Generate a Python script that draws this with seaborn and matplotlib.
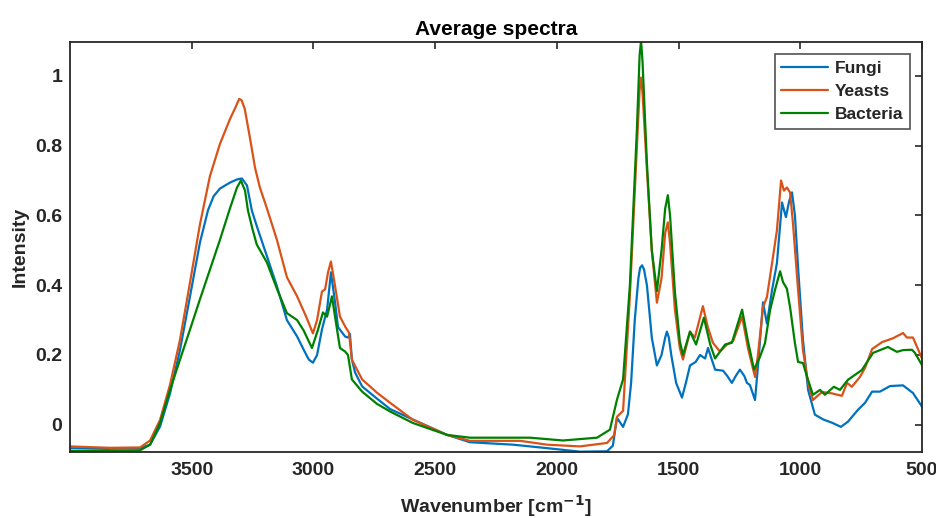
import matplotlib
matplotlib.use("Agg")
import matplotlib.pyplot as plt
import seaborn as sns
import pandas as pd

# ---------------- data ----------------
fungi_wn = [4000, 3850, 3712, 3671, 3630, 3589, 3548, 3507, 3466, 3433, 3410, 3384, 3343, 3314,
            3294, 3273, 3261, 3253, 3233, 3191, 3150, 3109, 3067, 3040, 3019, 3002, 2985, 2965,
            2944, 2928, 2911, 2899, 2870, 2858, 2850, 2842, 2829, 2800, 2739, 2685, 2591, 2451,
            2357, 2180, 2040, 1905, 1794, 1770, 1753, 1728, 1708, 1695, 1680, 1665, 1658, 1650,
            1642, 1630, 1610, 1589, 1570, 1555, 1548, 1540, 1530, 1510, 1486, 1470, 1453, 1430,
            1412, 1391, 1379, 1365, 1350, 1317, 1300, 1281, 1265, 1248, 1230, 1219, 1207, 1186,
            1174, 1153, 1137, 1116, 1096, 1075, 1059, 1046, 1034, 1022, 1009, 989, 968, 940, 905,
            870, 833, 804, 763, 734, 705, 673, 631, 578, 537, 500]
fungi_int = [-0.067, -0.069, -0.067, -0.057, -0.005, 0.09, 0.215, 0.368, 0.523, 0.615, 0.655, 0.677, 0.694, 0.703,
             0.706, 0.686, 0.643, 0.614, 0.57, 0.483, 0.397, 0.30, 0.253, 0.215, 0.187, 0.178, 0.20, 0.273,
             0.33, 0.437, 0.35, 0.28, 0.253, 0.25, 0.26, 0.187, 0.15, 0.11, 0.075, 0.045, 0.015, -0.029,
             -0.05, -0.057, -0.067, -0.077, -0.076, -0.06, 0.02, -0.006, 0.03, 0.12, 0.30, 0.42, 0.45, 0.457,
             0.445, 0.40, 0.25, 0.17, 0.20, 0.25, 0.267, 0.25, 0.20, 0.12, 0.078, 0.12, 0.17, 0.18,
             0.20, 0.19, 0.22, 0.19, 0.158, 0.155, 0.14, 0.12, 0.14, 0.158, 0.14, 0.12, 0.114, 0.071,
             0.166, 0.351, 0.29, 0.386, 0.463, 0.637, 0.595, 0.64, 0.666, 0.60, 0.45, 0.243, 0.10, 0.029, 0.015,
             0.006, -0.006, 0.009, 0.043, 0.063, 0.095, 0.095, 0.111, 0.113, 0.091, 0.052]

yeasts_wn = [4000, 3836, 3712, 3671, 3630, 3589, 3548, 3507, 3466, 3425, 3384, 3343, 3320, 3305,
             3295, 3282, 3261, 3240, 3220, 3191, 3150, 3109, 3067, 3030, 3002, 2985, 2965, 2952,
             2940, 2928, 2911, 2891, 2870, 2854, 2842, 2821, 2800, 2739, 2685, 2591, 2451, 2357,
             2151, 2040, 1905, 1794, 1765, 1753, 1728, 1700, 1671, 1660, 1654, 1648, 1630, 1610,
             1589, 1570, 1555, 1544, 1535, 1515, 1495, 1482, 1453, 1433, 1400, 1380, 1359, 1330,
             1301, 1276, 1239, 1215, 1186, 1174, 1153, 1137, 1116, 1096, 1079, 1067, 1055, 1042,
             1030, 1009, 989, 968, 948, 911, 870, 829, 808, 788, 755, 734, 705, 664, 619, 578,
             562, 537, 500]
yeasts_int = [-0.062, -0.066, -0.065, -0.045, 0.014, 0.115, 0.244, 0.408, 0.575, 0.713, 0.805, 0.876, 0.91, 0.934,
              0.93, 0.905, 0.823, 0.737, 0.68, 0.62, 0.53, 0.423, 0.368, 0.31, 0.262, 0.30, 0.382, 0.388,
              0.437, 0.468, 0.397, 0.31, 0.282, 0.264, 0.187, 0.158, 0.13, 0.092, 0.063, 0.014, -0.029, -0.046,
              -0.046, -0.057, -0.062, -0.052, -0.03, 0.023, 0.04, 0.37, 0.80, 0.96, 0.995, 0.95, 0.73, 0.50,
              0.35, 0.42, 0.55, 0.58, 0.52, 0.33, 0.22, 0.187, 0.267, 0.25, 0.34, 0.28, 0.235, 0.21,
              0.23, 0.24, 0.31, 0.22, 0.137, 0.20, 0.337, 0.366, 0.463, 0.557, 0.70, 0.671, 0.68, 0.666,
              0.577, 0.386, 0.214, 0.12, 0.071, 0.094, 0.09, 0.083, 0.12, 0.109, 0.137, 0.163, 0.217, 0.237, 0.248, 0.263,
              0.25, 0.25, 0.19]

bacteria_wn = [4000, 3836, 3712, 3671, 3630, 3589, 3548, 3507, 3466, 3425, 3384, 3343, 3314, 3298,
               3281, 3269, 3250, 3233, 3191, 3150, 3109, 3067, 3040, 3006, 2981, 2961, 2944, 2924,
               2903, 2891, 2870, 2858, 2842, 2800, 2739, 2685, 2591, 2451, 2357, 2110, 1975, 1835,
               1782, 1753, 1728, 1700, 1671, 1660, 1654, 1648, 1630, 1610, 1589, 1570, 1555, 1544,
               1535, 1515, 1495, 1482, 1453, 1428, 1396, 1370, 1350, 1309, 1281, 1239, 1215, 1190,
               1166, 1145, 1124, 1104, 1083, 1071, 1055, 1042, 1022, 1009, 989, 972, 948, 919, 899,
               862, 837, 804, 747, 701, 640, 603, 578, 541, 529, 500]
bacteria_int = [-0.075, -0.075, -0.073, -0.057, 0.005, 0.10, 0.187, 0.273, 0.36, 0.445, 0.53, 0.62, 0.68, 0.70,
                0.671, 0.614, 0.56, 0.517, 0.465, 0.39, 0.32, 0.30, 0.27, 0.22, 0.273, 0.322, 0.31, 0.368,
                0.273, 0.22, 0.21, 0.20, 0.13, 0.095, 0.06, 0.038, 0.005, -0.029, -0.037, -0.037, -0.045, -0.037,
                -0.014, 0.072, 0.13, 0.40, 0.85, 1.06, 1.10, 1.04, 0.75, 0.50, 0.383, 0.50, 0.62, 0.658,
                0.60, 0.38, 0.24, 0.20, 0.267, 0.23, 0.307, 0.23, 0.19, 0.23, 0.235, 0.33, 0.24, 0.158,
                0.194, 0.234, 0.329, 0.386, 0.44, 0.409, 0.39, 0.337, 0.234, 0.18, 0.177, 0.137, 0.086, 0.10, 0.086,
                0.109, 0.10, 0.129, 0.157, 0.206, 0.223, 0.209, 0.214, 0.215, 0.206, 0.171]

series_names = ["Fungi", "Yeasts", "Bacteria"]
series_colors = ["#0072BD", "#D95319", "#008000"]
x_ticks = [500, 1000, 1500, 2000, 2500, 3000, 3500]
y_ticks = [0, 0.2, 0.4, 0.6, 0.8, 1.0]
y_tick_labels = ["0", "0.2", "0.4", "0.6", "0.8", "1"]

frames = []
for name, wn, it in [("Fungi", fungi_wn, fungi_int),
                     ("Yeasts", yeasts_wn, yeasts_int),
                     ("Bacteria", bacteria_wn, bacteria_int)]:
    frames.append(pd.DataFrame({"Wavenumber": wn, "Intensity": it, "Group": name}))
df = pd.concat(frames, ignore_index=True)

# ---------------- figure ----------------
sns.set_style("white")
plt.rcParams["font.family"] = ["Liberation Sans", "DejaVu Sans"]
plt.rcParams["font.weight"] = "bold"
plt.rcParams["lines.solid_joinstyle"] = "round"

fig = plt.figure(figsize=(9.37, 5.18), dpi=100)
ax = fig.add_axes([70 / 937, 1 - 452 / 518, 852 / 937, 410 / 518])

sns.lineplot(data=df, x="Wavenumber", y="Intensity", hue="Group",
             hue_order=series_names, palette=series_colors,
             estimator=None, sort=True, linewidth=1.6, ax=ax)

ax.set_xlim(4000, 500)
ax.set_ylim(-0.078, 1.097)
ax.set_xticks(x_ticks)
ax.set_xticklabels([str(t) for t in x_ticks])
ax.set_yticks(y_ticks)
ax.set_yticklabels(y_tick_labels)

for s in ax.spines.values():
    s.set_visible(True)
    s.set_color("#262626")
    s.set_linewidth(1.3)
ax.tick_params(direction="in", length=5, width=1.2, color="#262626",
               top=True, right=True, labelsize=14, labelcolor="#262626")
ax.tick_params(axis="x", pad=7.5)
ax.tick_params(axis="y", pad=5.5)
for lab in ax.get_xticklabels() + ax.get_yticklabels():
    lab.set_fontweight("bold")

ax.set_xlabel("Wavenumber [cm$^{\\mathbf{-1}}$]", fontsize=14, fontweight="bold",
              color="#262626", labelpad=10)
ax.set_ylabel("Intensity", fontsize=14, fontweight="bold", color="#262626", labelpad=5)
ax.set_title("Average spectra", fontsize=15, fontweight="bold", color="black", pad=5)

leg = ax.legend(loc="upper right", fontsize=12.5, frameon=True, fancybox=False,
                handlelength=2.7, handletextpad=0.35, borderaxespad=0.7,
                labelspacing=0.45, borderpad=0.4)
leg.get_frame().set_edgecolor("#262626")
leg.get_frame().set_linewidth(1.2)
for t in leg.get_texts():
    t.set_fontweight("bold")
for l in leg.get_lines():
    l.set_linewidth(1.6)

fig.savefig("out.png", dpi=100)
